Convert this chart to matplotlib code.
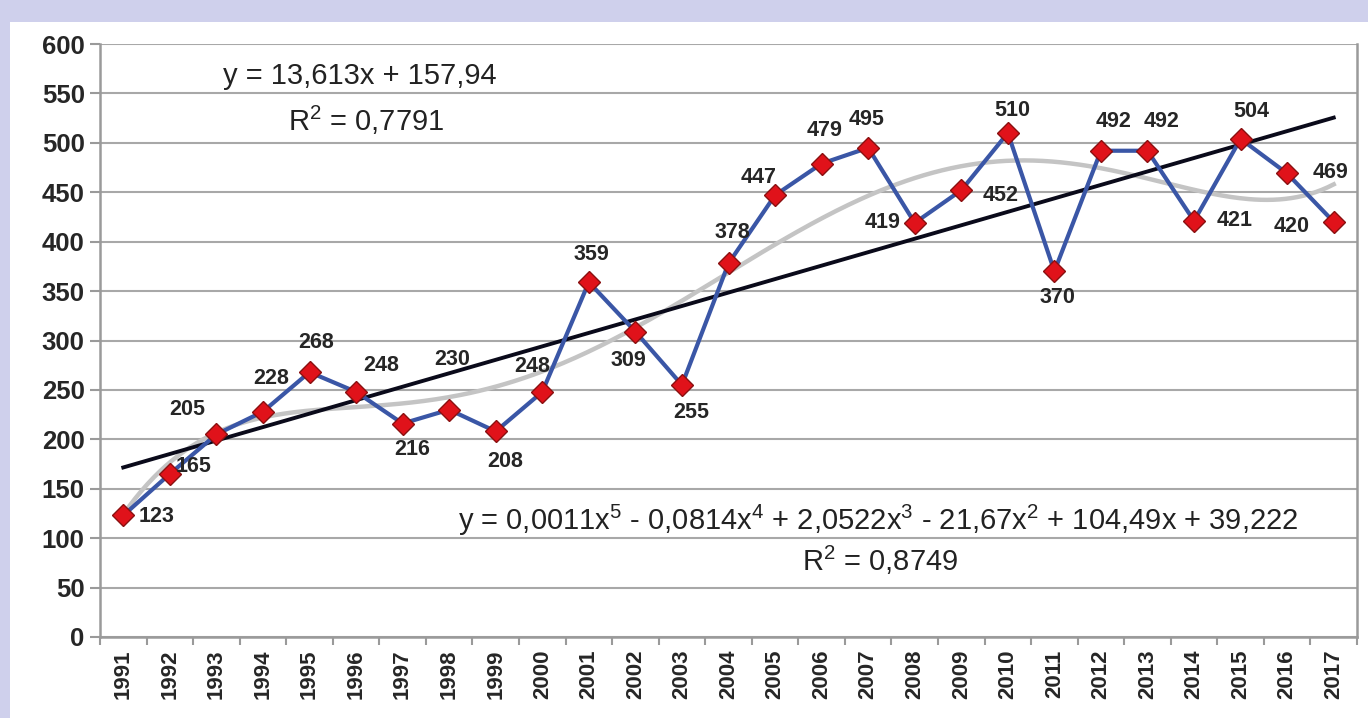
import numpy as np
import matplotlib
matplotlib.use("Agg")
import matplotlib.pyplot as plt
from matplotlib.patches import Rectangle

plt.rcParams['font.family'] = ['Liberation Sans', 'DejaVu Sans']
plt.rcParams['mathtext.fontset'] = 'custom'
plt.rcParams['mathtext.rm'] = 'Liberation Sans'
plt.rcParams['mathtext.it'] = 'Liberation Sans'

years = [str(y) for y in range(1991, 2018)]
values = [123, 165, 205, 228, 268, 248, 216, 230, 208, 248, 359, 309, 255, 378,
          447, 479, 495, 419, 452, 510, 370, 492, 492, 421, 504, 469, 420]
lin_eq = "y = 13,613x + 157,94"
lin_r2 = "R$^2$ = 0,7791"
poly_eq = "y = 0,0011x$^5$ - 0,0814x$^4$ + 2,0522x$^3$ - 21,67x$^2$ + 104,49x + 39,222"
poly_r2 = "R$^2$ = 0,8749"

# label offsets in points (style only)
offsets = [(24, -1), (17, 5), (-21, 18), (6, 24), (5, 21), (18, 19), (7, -19), (2, 36),
           (7, -22), (-7, 18), (2, 20), (-5, -21), (7, -20), (3, 22), (-12, 13),
           (2, 24), (-1, 20), (-23, 0), (28, -4), (3, 16), (2, -19), (9, 21), (10, 21),
           (29, 0), (8, 20), (31, 1), (-30, -3)]

W, H = 1368, 718
fig = plt.figure(figsize=(W / 100, H / 100), dpi=100)
fig.patch.set_facecolor('#cfd0ec')
fig.patches.append(Rectangle((10 / W, 0), 1 - 10 / W, 1 - 22 / H, transform=fig.transFigure,
                             facecolor='white', edgecolor='none', zorder=-5))

ax = fig.add_axes([100 / W, 1 - 637 / H, (1357 - 100) / W, (637 - 44) / H])
ax.set_facecolor('none')
ax.set_zorder(2)

n = len(values)
x = np.arange(1, n + 1)
ax.set_xlim(0.5, n + 0.5)
ax.set_ylim(0, 600)
ax.set_yticks(np.arange(0, 601, 50))
ax.set_xticks(x)
ax.set_xticklabels(years, rotation=90, fontsize=16, fontweight='bold', color='#262626')
ax.set_xticks(np.arange(0.5, n + 1, 1), minor=True)
ax.tick_params(axis='x', which='major', length=0, pad=9)
ax.tick_params(axis='x', which='minor', length=6, color='#9a9a9a', width=1.5)
ax.tick_params(axis='y', length=7, color='#9a9a9a', width=1.5, labelsize=18.5, pad=4)
for lab in ax.get_yticklabels():
    lab.set_fontweight('bold')
    lab.set_color('#262626')
ax.grid(axis='y', color='#a8a8a8', linewidth=1.5)
ax.set_axisbelow(True)
for s in ['left', 'bottom', 'right']:
    ax.spines[s].set_color('#9a9a9a')
    ax.spines[s].set_linewidth(1.8)
ax.spines['top'].set_visible(False)

# trend lines
xs = np.linspace(1, n, 400)
pl = np.polyfit(x, values, 1)
pp = np.polyfit(x, values, 5)
ax.plot(xs, np.polyval(pp, xs), color='#c4c4c4', linewidth=3.2, zorder=2)
ax.plot(xs, np.polyval(pl, xs), color='#0a0a1a', linewidth=2.8, zorder=3)

ax.plot(x, values, color='#3a56a6', linewidth=3, zorder=4,
        marker='D', markersize=11.5, markerfacecolor='#e0121a', markeredgecolor='#8a1010',
        markeredgewidth=1)

for xi, v, (dx, dy) in zip(x, values, offsets):
    ax.annotate(str(v), (xi, v), xytext=(dx, dy), textcoords='offset points',
                ha='center', va='center', fontsize=15.5, fontweight='bold', color='#262626',
                zorder=5)

fs = 21
fig.text(360 / W, 1 - 76 / H, lin_eq, ha='center', va='center', fontsize=fs, color='#222222')
fig.text(366 / W, 1 - 120 / H, lin_r2, ha='center', va='center', fontsize=fs, color='#222222')
fig.text(878 / W, 1 - 520 / H, poly_eq, ha='center', va='center', fontsize=fs, color='#222222')
fig.text(880 / W, 1 - 560 / H, poly_r2, ha='center', va='center', fontsize=fs, color='#222222')

fig.savefig('out.png', dpi=100, facecolor=fig.get_facecolor())
